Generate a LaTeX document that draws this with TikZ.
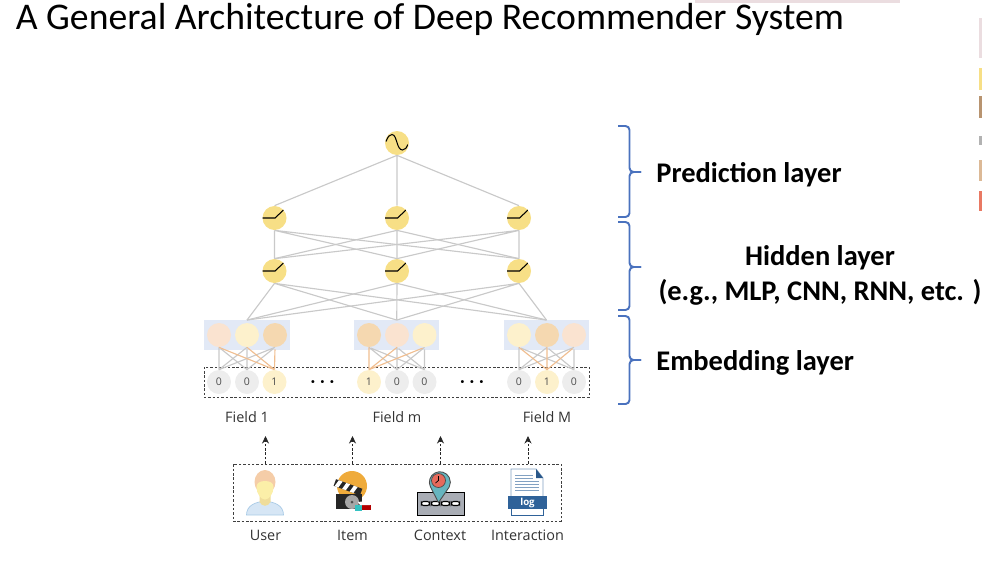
\documentclass[tikz,border=0pt]{standalone}
\usepackage{fontspec}
\setmainfont{Carlito}
\newfontfamily\lblfont{Open Sans}
\usepackage{xcolor}
\usetikzlibrary{arrows.meta, positioning, fit, backgrounds, shapes}
\definecolor{actyellow}{HTML}{F7DF86}
\definecolor{embblue}{HTML}{E2E9F6}
\definecolor{embpeach}{HTML}{FAE3D0}
\definecolor{embcream}{HTML}{FDF1CC}
\definecolor{embtan}{HTML}{F5D8B0}
\definecolor{hotgrey}{HTML}{EDEDED}
\definecolor{netgrey}{HTML}{C9C9C9}
\definecolor{hotedge}{HTML}{F0BE90}
\definecolor{bracblue}{HTML}{4A72BE}
\definecolor{logblue}{HTML}{2F6299}
\definecolor{hairpeach}{HTML}{F5CDA8}
\definecolor{facecream}{HTML}{FBEFA8}
\definecolor{neckyellow}{HTML}{EFDD9B}
\definecolor{bodyblue}{HTML}{D6E6F5}
\definecolor{bodyline}{HTML}{A9CBE6}
\definecolor{sunorange}{HTML}{EFAB3B}
\definecolor{pinteal}{HTML}{66B5BF}
\definecolor{pinred}{HTML}{E66A5C}
\definecolor{roadgrey}{HTML}{A9ADB5}
\definecolor{stripepink}{HTML}{EBDDE0}
\tikzset{
  sinenode/.style={circle,fill=actyellow,minimum size=4.8mm,inner sep=0pt,
    path picture={\draw[black,semithick,shift={(path picture bounding box.center)}] (-2.2mm,0.3mm)
      .. controls (-1.8mm,1.3mm) and (-1.5mm,1.7mm) .. (-1.0mm,1.7mm)
      .. controls (-0.4mm,1.7mm) and (-0.2mm,0.6mm) .. (0mm,0.1mm)
      .. controls (0.2mm,-0.6mm) and (0.5mm,-1.4mm) .. (1.1mm,-1.4mm)
      .. controls (1.6mm,-1.4mm) and (2.0mm,-0.9mm) .. (2.2mm,-0.3mm);}},
  rampnode/.style={circle,fill=actyellow,minimum size=4.8mm,inner sep=0pt,
    path picture={\draw[black,semithick,shift={(path picture bounding box.center)}] (-2.4mm,0mm)
      -- (0.1mm,0mm) -- (1.8mm,1.6mm);}},
  embnode/.style={circle,minimum size=4.8mm,inner sep=0pt},
  hotnode/.style={circle,minimum size=4.8mm,inner sep=0pt,font=\lblfont\fontsize{6}{6}\selectfont,text=black!70},
  offnode/.style={hotnode,fill=hotgrey},
  onnode/.style={hotnode,fill=embcream},
  embbox/.style={fill=embblue,inner sep=0.45mm},
  dashbox/.style={draw=black!75,dash pattern=on 0.5mm off 0.37mm,thin,inner sep=0.55mm},
  netedge/.style={netgrey,line width=0.65pt},
  coldedge/.style={netgrey,line width=0.65pt,shorten <=0.4mm},
  warmedge/.style={hotedge,line width=0.65pt,shorten <=0.4mm},
  dataarrow/.style={-{Stealth[length=1.5mm,width=1.4mm]},dash pattern=on 0.5mm off 0.37mm,thin,black!85},
  fieldlbl/.style={font=\lblfont\fontsize{8.2}{9}\selectfont,text=black!80},
  layerlbl/.style={font=\bfseries\fontsize{16.2}{20}\selectfont,align=center,inner sep=0pt},
  bracket/.style={bracblue,line width=1.1pt,rounded corners=0.8mm},
}
\begin{document}
\begin{tikzpicture}
  \path[use as bounding box] (0,0) rectangle (19.64,-11.60);
  % slide leftovers at the edges
  \fill[stripepink] (13.90,0) rectangle (18.00,-0.06);
  \fill[stripepink] (19.58,-0.36) rectangle (19.64,-1.16);
  \fill[actyellow] (19.58,-1.36) rectangle (19.64,-1.80);
  \fill[brown!80!black!70] (19.58,-1.92) rectangle (19.64,-2.36);
  \fill[gray!60] (19.58,-2.72) rectangle (19.64,-2.90);
  \fill[brown!55] (19.58,-3.20) rectangle (19.64,-3.62);
  \fill[red!50!brown!70] (19.58,-3.82) rectangle (19.64,-4.22);

  \node[anchor=west,inner sep=0pt,font=\fontsize{21.45}{26}\selectfont] (nTitle) at (0.31,-0.38) {A General Architecture of Deep Recommender System};

  \node[sinenode] (nT) at (7.94,-2.86) {};
  \node[rampnode] (nUa) at (5.49,-4.36) {};
  \node[rampnode] (nUb) at (7.94,-4.36) {};
  \node[rampnode] (nUc) at (10.38,-4.36) {};
  \node[rampnode] (nLa) at (5.49,-5.42) {};
  \node[rampnode] (nLb) at (7.94,-5.42) {};
  \node[rampnode] (nLc) at (10.38,-5.42) {};

  \node[embnode,fill=embpeach] (eA) at (4.38,-6.70) {};
  \node[embnode,fill=embcream] (eB) at (4.94,-6.70) {};
  \node[embnode,fill=embtan] (eC) at (5.50,-6.70) {};
  \node[embnode,fill=embtan] (eD) at (7.38,-6.70) {};
  \node[embnode,fill=embpeach] (eE) at (7.94,-6.70) {};
  \node[embnode,fill=embcream] (eF) at (8.49,-6.70) {};
  \node[embnode,fill=embcream] (eG) at (10.38,-6.70) {};
  \node[embnode,fill=embtan] (eH) at (10.94,-6.70) {};
  \node[embnode,fill=embpeach] (eI) at (11.48,-6.70) {};

  \node[offnode] (hA) at (4.38,-7.64) {0};
  \node[offnode] (hB) at (4.94,-7.64) {0};
  \node[onnode] (hC) at (5.49,-7.64) {1};
  \node[onnode] (hD) at (7.38,-7.64) {1};
  \node[offnode] (hE) at (7.94,-7.64) {0};
  \node[offnode] (hF) at (8.49,-7.64) {0};
  \node[offnode] (hG) at (10.38,-7.64) {0};
  \node[onnode] (hH) at (10.94,-7.64) {1};
  \node[offnode] (hI) at (11.48,-7.64) {0};
  \node[font=\bfseries\fontsize{9}{9}\selectfont] (nDotsA) at (6.45,-7.67) {·\,\,·\,\,·};
  \node[font=\bfseries\fontsize{9}{9}\selectfont] (nDotsB) at (9.44,-7.67) {·\,\,·\,\,·};

  \begin{scope}[on background layer]
    \node[embbox,fit=(eA)(eC)] (bxA) {};
    \node[embbox,fit=(eD)(eF)] (bxB) {};
    \node[embbox,fit=(eG)(eI)] (bxC) {};
    \node[dashbox,fit=(hA)(hI)] (nHot) {};
  \end{scope}

  \draw[netedge] (nT.south) -- (nUa.north) (nT.south) -- (nUb.north) (nT.south) -- (nUc.north);
  \draw[netedge] (nUa.south) -- (nLa.north) (nUa.south) -- (nLb.north) (nUa.south) -- (nLc.north);
  \draw[netedge] (nUb.south) -- (nLa.north) (nUb.south) -- (nLb.north) (nUb.south) -- (nLc.north);
  \draw[netedge] (nUc.south) -- (nLa.north) (nUc.south) -- (nLb.north) (nUc.south) -- (nLc.north);
  \draw[netedge] (nLa.south) -- (bxA.north) (nLa.south) -- (bxB.north) (nLa.south) -- (bxC.north);
  \draw[netedge] (nLb.south) -- (bxA.north) (nLb.south) -- (bxB.north) (nLb.south) -- (bxC.north);
  \draw[netedge] (nLc.south) -- (bxA.north) (nLc.south) -- (bxB.north) (nLc.south) -- (bxC.north);

  \draw[coldedge] (eA.south) -- (hA.north) (eA.south) -- (hB.north);
  \draw[coldedge] (eB.south) -- (hA.north) (eB.south) -- (hB.north);
  \draw[coldedge] (eC.south) -- (hA.north) (eC.south) -- (hB.north);
  \draw[warmedge] (eA.south) -- (hC.north) (eB.south) -- (hC.north) (eC.south) -- (hC.north);
  \draw[coldedge] (eD.south) -- (hE.north) (eD.south) -- (hF.north);
  \draw[coldedge] (eE.south) -- (hE.north) (eE.south) -- (hF.north);
  \draw[coldedge] (eF.south) -- (hE.north) (eF.south) -- (hF.north);
  \draw[warmedge] (eD.south) -- (hD.north) (eE.south) -- (hD.north) (eF.south) -- (hD.north);
  \draw[coldedge] (eG.south) -- (hG.north) (eG.south) -- (hI.north);
  \draw[coldedge] (eH.south) -- (hG.north) (eH.south) -- (hI.north);
  \draw[coldedge] (eI.south) -- (hG.north) (eI.south) -- (hI.north);
  \draw[warmedge] (eG.south) -- (hH.north) (eH.south) -- (hH.north) (eI.south) -- (hH.north);

  \node[fieldlbl] (nFa) at (4.94,-8.34) {Field 1};
  \node[fieldlbl] (nFb) at (7.94,-8.34) {Field m};
  \node[fieldlbl] (nFc) at (10.94,-8.34) {Field M};

  \node[draw=black!75,dash pattern=on 0.5mm off 0.37mm,thin,minimum width=65.6mm,minimum height=11.4mm] (nData) at (7.94,-9.85) {};
  \node[fieldlbl] (nUser) at (5.31,-10.71) {User};
  \node[fieldlbl] (nItem) at (7.05,-10.71) {Item};
  \node[fieldlbl] (nCtx) at (8.80,-10.71) {Context};
  \node[fieldlbl] (nInter) at (10.55,-10.71) {Interaction};
  \coordinate (tUser) at (5.31,-8.72);
  \coordinate (tItem) at (7.05,-8.72);
  \coordinate (tCtx) at (8.81,-8.72);
  \coordinate (tInter) at (10.56,-8.72);
  \draw[dataarrow] (tUser|-nData.north) -- (tUser);
  \draw[dataarrow] (tItem|-nData.north) -- (tItem);
  \draw[dataarrow] (tCtx|-nData.north) -- (tCtx);
  \draw[dataarrow] (tInter|-nData.north) -- (tInter);

  % user icon
  \begin{scope}[shift={(5.30,-9.80)},x=0.2mm,y=0.2mm]
    \draw[fill=bodyblue,draw=bodyline,line width=0.4pt] (-18.5,-25) .. controls (-18.5,-15) and (-9,-12) .. (0,-11) .. controls (9,-12) and (18.5,-15) .. (18.5,-25) -- cycle;
    \fill[neckyellow] (-5.5,-5) -- (5.5,-5) -- (5.5,-12) .. controls (3,-17) and (-3,-17) .. (-5.5,-12) -- cycle;
    \fill[hairpeach] (0,8) ellipse (10.5 and 12);
    \fill[facecream] (-8.5,3) .. controls (-8.5,7) and (-5,9) .. (0,9) .. controls (5,9) and (8.5,7) .. (8.5,3) .. controls (8.5,-4) and (4,-9.5) .. (0,-9.5) .. controls (-4,-9.5) and (-8.5,-4) .. (-8.5,3) -- cycle;
  \end{scope}
  % item icon
  \begin{scope}[shift={(7.06,-9.80)},x=0.2mm,y=0.2mm]
    \fill[sunorange] (-1,4) circle (15);
    \fill[black!85] (-17,-4) rectangle (9,-19);
    \begin{scope}[rotate around={-20:(-18,8)}]
      \fill[black!85] (-18,11) rectangle (10,4);
      \fill[white] (-15,11) -- (-11,11) -- (-13,4) -- (-17,4) -- cycle;
      \fill[white] (-7,11) -- (-3,11) -- (-5,4) -- (-9,4) -- cycle;
      \fill[white] (1,11) -- (5,11) -- (3,4) -- (-1,4) -- cycle;
    \end{scope}
    \fill[gray!70] (-1,-12) circle (7);
    \fill[black!70] (-1,-12) circle (1.5);
    \fill[red!70!black] (9,-15) rectangle (18,-20);
    \fill[teal!60!cyan!80] (2,-15) rectangle (9,-21);
    \fill[white] (5,-12) -- (14,-11) -- (17,-15) -- (7,-15) -- cycle;
  \end{scope}
  % context icon
  \begin{scope}[shift={(8.81,-9.80)},x=0.2mm,y=0.2mm]
    \draw[fill=roadgrey,draw=black,line width=0.5pt] (-23.5,-2) rectangle (23.5,-25);
    \draw[fill=white,draw=black,line width=0.6pt,rounded corners=1.2pt] (-19,-11.5) rectangle (-11,-15.5) (-9,-11.5) rectangle (-1,-15.5) (1,-11.5) rectangle (9,-15.5) (11,-11.5) rectangle (19,-15.5);
    \draw[fill=pinteal,draw=black!70,line width=0.5pt] (-2,-12.5) -- (-10,3) arc[start angle=207,end angle=-27,radius=10.5] -- cycle;
    \draw[fill=pinred,draw=black!70,line width=0.4pt] (-2,9.5) circle (7);
    \draw[black,line width=0.4pt] (-2,14) -- (-2,9.5) -- (-5,7);
  \end{scope}
  % log icon
  \begin{scope}[shift={(10.54,-9.80)},x=0.2mm,y=0.2mm]
    \draw[fill=white,draw=logblue,line width=0.5pt] (-16,-25) rectangle (16,-15);
    \draw[fill=white,draw=logblue!60,line width=0.5pt] (-16,-8) -- (-16,21) -- (9,21) -- (16,12) -- (16,-8) -- cycle;
    \fill[logblue!90!black] (9,21) -- (16,12) -- (9,12) -- cycle;
    \draw[logblue!60,line width=0.5pt] (-12,15) -- (6,15) (-12,12) -- (6,12) (-12,9) -- (12,9) (-12,6) -- (12,6) (-12,3) -- (12,3) (-12,0) -- (12,0);
    \fill[logblue] (-19,-6) rectangle (20,-19);
    \node[font=\lblfont\bfseries\fontsize{5.5}{6}\selectfont,text=white] (nLog) at (0.5,-12.5) {log};
  \end{scope}

  \draw[bracket] (12.36,-2.52) -- (12.59,-2.52) -- (12.59,-3.44) -- (12.82,-3.44);
  \draw[bracket] (12.82,-3.44) -- (12.59,-3.44) -- (12.59,-4.34) -- (12.36,-4.34);
  \draw[bracket] (12.36,-4.44) -- (12.59,-4.44) -- (12.59,-5.34) -- (12.82,-5.34);
  \draw[bracket] (12.82,-5.34) -- (12.59,-5.34) -- (12.59,-6.20) -- (12.36,-6.20);
  \draw[bracket] (12.36,-6.32) -- (12.59,-6.32) -- (12.59,-7.20) -- (12.82,-7.20);
  \draw[bracket] (12.82,-7.20) -- (12.59,-7.20) -- (12.59,-8.08) -- (12.36,-8.08);

  \node[layerlbl,anchor=west] (nPred) at (13.12,-3.49) {Prediction layer};
  \node[layerlbl] (nHid) at (16.40,-5.50) {Hidden layer\\(e.g., MLP, CNN, RNN, etc. )};
  \node[layerlbl,anchor=west] (nEmb) at (13.12,-7.26) {Embedding layer};
\end{tikzpicture}
\end{document}
